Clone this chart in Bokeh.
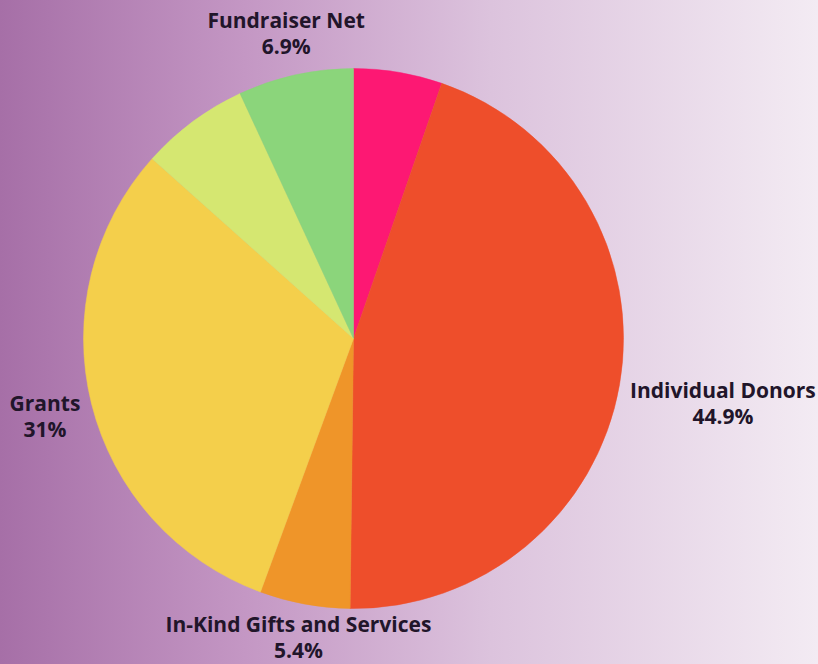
import math
from bokeh.plotting import figure
from bokeh.models import ColumnDataSource, Range1d
from bokeh.core.properties import value
from bokeh.embed import file_html
from bokeh.resources import INLINE

# ---- data (clockwise from 12 o'clock) ----
categories = ["Unlabeled A", "Individual Donors", "In-Kind Gifts and Services",
              "Grants", "Unlabeled B", "Fundraiser Net"]
shares = [5.3, 44.9, 5.4, 31.0, 6.5, 6.9]
label_names = ["", "Individual Donors", "In-Kind Gifts and Services", "Grants", "", "Fundraiser Net"]
label_pcts = ["", "44.9%", "5.4%", "31%", "", "6.9%"]
colors = ["#fd1873", "#ee4e2b", "#ef9529", "#f4cf4b", "#d5e771", "#8bd57b"]

# ---- layout (pixel-like data units) ----
W, H = 818, 664
CX, CY, R = 353, 326, 270
label_dist = [0, 375, 304, 318, 0, 313]
HALF_GAP = 13

total = sum(shares)
starts, ends, mids = [], [], []
cum = 0.0
for s in shares:
    a0 = math.pi / 2 - cum / total * 2 * math.pi
    cum += s
    a1 = math.pi / 2 - cum / total * 2 * math.pi
    starts.append(a0)
    ends.append(a1)
    mids.append((a0 + a1) / 2)

src = ColumnDataSource(dict(cat=categories, start=starts, end=ends, color=colors,
                            x=[CX] * len(shares), y=[CY] * len(shares)))

lx, ly1, ly2, t1, t2 = [], [], [], [], []
for name, pct, m, d in zip(label_names, label_pcts, mids, label_dist):
    if not name:
        continue
    x = CX + d * math.cos(m)
    y = CY + d * math.sin(m)
    lx.append(x)
    ly1.append(y + HALF_GAP)
    ly2.append(y - HALF_GAP)
    t1.append(name)
    t2.append(pct)
lsrc = ColumnDataSource(dict(x=lx, y1=ly1, y2=ly2, t1=t1, t2=t2))

p = figure(width=W, height=H, output_backend="svg", toolbar_location=None,
           x_range=Range1d(0, W), y_range=Range1d(0, H), min_border=0,
           match_aspect=False)
p.axis.visible = False
p.grid.visible = False
p.outline_line_color = None
p.background_fill_alpha = 0
p.border_fill_alpha = 0
p.styles = {"background": "linear-gradient(to right, #a66fa7 0%, #c497c4 30%, #dcc3dd 60%, #f3ebf3 100%)"}

p.wedge(x="x", y="y", radius=R, start_angle="start", end_angle="end",
        direction="clock", fill_color="color", line_color="color", line_width=0.5,
        source=src)

common = dict(source=lsrc, text_align="center", text_baseline="middle",
              text_font=value("Open Sans"), text_font_style="bold",
              text_font_size="21px", text_color="#21152a")
p.text(x="x", y="y1", text="t1", **common)
p.text(x="x", y="y2", text="t2", **common)

open("out.html", "w").write(file_html(p, INLINE))
